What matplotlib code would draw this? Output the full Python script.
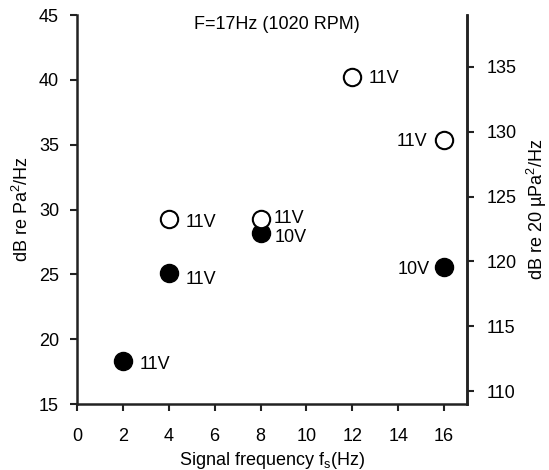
import matplotlib
matplotlib.use("Agg")
import matplotlib.pyplot as plt

plt.rcParams['font.family'] = ['Liberation Sans', 'DejaVu Sans']

# Data
filled_x = [2, 4, 8, 16]
filled_y = [18.3, 25.1, 28.2, 25.6]
filled_lbl = ["11V", "11V", "10V", "10V"]
open_x = [4, 8, 12, 16]
open_y = [29.3, 29.3, 40.2, 35.4]
open_lbl = ["11V", "11V", "11V", "11V"]
x_ticks = [0, 2, 4, 6, 8, 10, 12, 14, 16]
y_ticks = [15, 20, 25, 30, 35, 40, 45]
y2_ticks = [110, 115, 120, 125, 130, 135]
offset_db = 94

FS = 13
fig = plt.figure(figsize=(5.49, 4.70), dpi=100)
ax = fig.add_axes([0.1403, 0.1404, 0.8506 - 0.1403, 0.968 - 0.1404])

ax.plot(filled_x, filled_y, 'o', color='black', markersize=13, zorder=3, clip_on=False)
ax.plot(open_x, open_y, 'o', markerfacecolor='white', markeredgecolor='black',
        markeredgewidth=1.5, markersize=12.5, zorder=3, clip_on=False)

# label offsets (points), baseline aligned
f_off = [(12, -5.8), (12, -7.6), (10, -6.6), (-10, -5.6)]
o_off = [(12, -6.4), (9.5, -3.0), (11.5, -4.0), (-12, -4.7)]
for x, y, t, (dx, dy) in zip(filled_x, filled_y, filled_lbl, f_off):
    ax.annotate(t, (x, y), xytext=(dx, dy), textcoords='offset points',
                ha='left' if dx > 0 else 'right', va='baseline', fontsize=FS)
for x, y, t, (dx, dy) in zip(open_x, open_y, open_lbl, o_off):
    ax.annotate(t, (x, y), xytext=(dx, dy), textcoords='offset points',
                ha='left' if dx > 0 else 'right', va='baseline', fontsize=FS)

ax.set_xlim(0, 17)
ax.set_ylim(15, 45)
ax.set_xticks(x_ticks)
ax.set_yticks(y_ticks)
ax.spines['top'].set_visible(False)
for s in ['left', 'bottom', 'right']:
    ax.spines[s].set_linewidth(1.8)
    ax.spines[s].set_color('#222222')
ax.tick_params(axis='both', direction='out', length=5, width=1.5, labelsize=FS,
               color='#222222')
ax.tick_params(axis='y', pad=8)
ax.tick_params(axis='x', pad=12)
ax.set_xlabel(r"Signal frequency f$_\mathregular{s}$(Hz)", fontsize=FS, labelpad=4)
ax.set_ylabel(r"dB re Pa$^\mathregular{2}$/Hz", fontsize=FS, labelpad=5)

ax2 = ax.twinx()
ax2.set_ylim(15 + offset_db, 45 + offset_db)
ax2.set_yticks(y2_ticks)
for s in ['left', 'bottom', 'top']:
    ax2.spines[s].set_visible(False)
ax2.spines['right'].set_linewidth(1.8)
ax2.spines['right'].set_color('#222222')
ax2.tick_params(axis='y', direction='out', length=5, width=1.5, labelsize=FS,
                color='#222222', pad=9)
ax2.set_ylabel(r"dB re 20 µPa$^\mathregular{2}$/Hz", fontsize=FS, labelpad=6)

ax.text(8.7, 44.3, "F=17Hz (1020 RPM)", ha='center', va='center', fontsize=FS)

fig.savefig("out.png", dpi=100)
